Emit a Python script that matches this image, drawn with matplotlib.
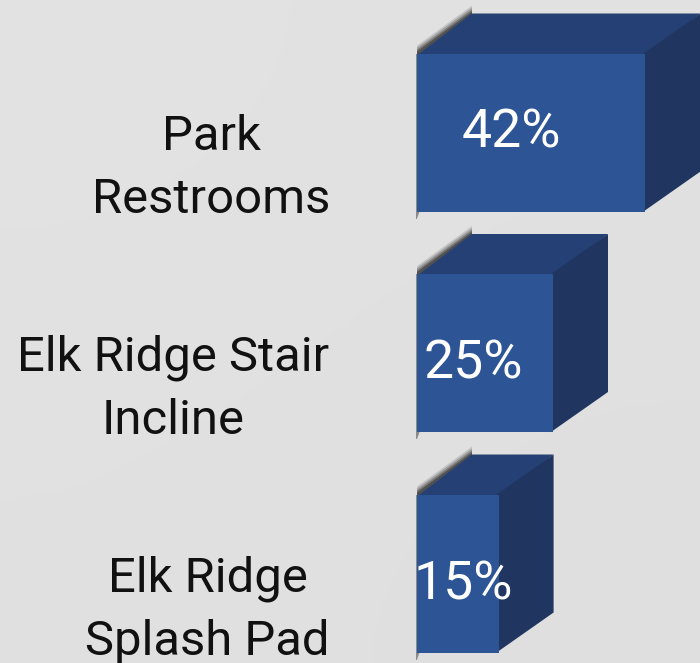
import numpy as np
import matplotlib
matplotlib.use("Agg")
import matplotlib.pyplot as plt
from matplotlib.patches import Polygon

categories = ["Park\nRestrooms", "Elk Ridge Stair\nIncline", "Elk Ridge\nSplash Pad"]
values = [42, 25, 15]
value_labels = ["42%", "25%", "15%"]

W, H = 700, 663
PX_PER_UNIT = 5.44      # pixels per percent
X0 = 417                # pixel of zero
ROW0, ROW_STEP = 132.5, 220.5
BAR_H = 158 / ROW_STEP
DX = 55 / PX_PER_UNIT
DY = -40 / ROW_STEP
PY = 1 / ROW_STEP       # one pixel in row units
PX = 1 / PX_PER_UNIT    # one pixel in value units

plt.rcParams["font.family"] = ["Roboto", "DejaVu Sans"]
fig = plt.figure(figsize=(W / 100, H / 100), dpi=100)
ax = fig.add_axes([0, 0, 1, 1])
ax.set_xlim(-X0 / PX_PER_UNIT, (W - X0) / PX_PER_UNIT)
ax.set_ylim((H - ROW0) / ROW_STEP, -ROW0 / ROW_STEP)
ax.axis("off")

# soft grey backdrop
grad = np.array([[0.885, 0.880], [0.878, 0.872]])
ax.imshow(grad, extent=[*ax.get_xlim(), *ax.get_ylim()], cmap="gray", vmin=0, vmax=1,
          aspect="auto", interpolation="bicubic", zorder=0)

ys = np.arange(len(values))
ax.barh(ys, values, height=BAR_H, left=0, color="#2d5596", linewidth=0, zorder=3)

value_x = [8.2, 1.2, -0.6]
value_dy = [0.0, 0.052, 0.054]
label_x = [-37.8, -44.9, -38.5]

for y, v, lab, cat, tx, tdy, lx in zip(ys, values, value_labels, categories, value_x, value_dy, label_x):
    top, bot = y - BAR_H / 2, y + BAR_H / 2
    # overlap the front face slightly so that no light seam shows
    ax.add_patch(Polygon([(0, top + 2 * PY), (DX, top + DY), (v + DX, top + DY), (v, top + 2 * PY)],
                         fc="#254075", lw=0, zorder=2))
    ax.add_patch(Polygon([(v - 2 * PX, top), (v + DX, top + DY), (v + DX, bot + DY), (v - 2 * PX, bot)],
                         fc="#203661", lw=0, zorder=2.5))
    # soft shadow along the top-left edge and down the left edge
    for h, a in [(8, .14), (6, .22), (4, .32), (2, .45)]:
        ax.add_patch(Polygon([(0, top + 3 * PY), (DX, top + DY + 3 * PY), (DX, top + DY - h * PY), (0, top - h * PY)],
                             fc="#222222", alpha=a, lw=0, zorder=1))
    ax.add_patch(Polygon([(-1 * PX, top), (0.5 * PX, top), (0.5 * PX, bot + 7 * PY), (-1 * PX, bot + 7 * PY)],
                         fc="#444444", alpha=.55, lw=0, zorder=1))
    ax.add_patch(Polygon([(0, bot - 1 * PY), (3 * PX, bot - 1 * PY), (0, bot + 7 * PY)],
                         fc="#555555", alpha=.6, lw=0, zorder=1))
    ax.text(tx, y + tdy, lab, color="white", fontsize=38.5, ha="left", va="center", zorder=5)
    ax.text(lx, y + 0.165, cat, color="#111111", fontsize=35.3, ha="center", va="center",
            linespacing=1.47, multialignment="center", zorder=5)

fig.savefig("out.png", dpi=100)
